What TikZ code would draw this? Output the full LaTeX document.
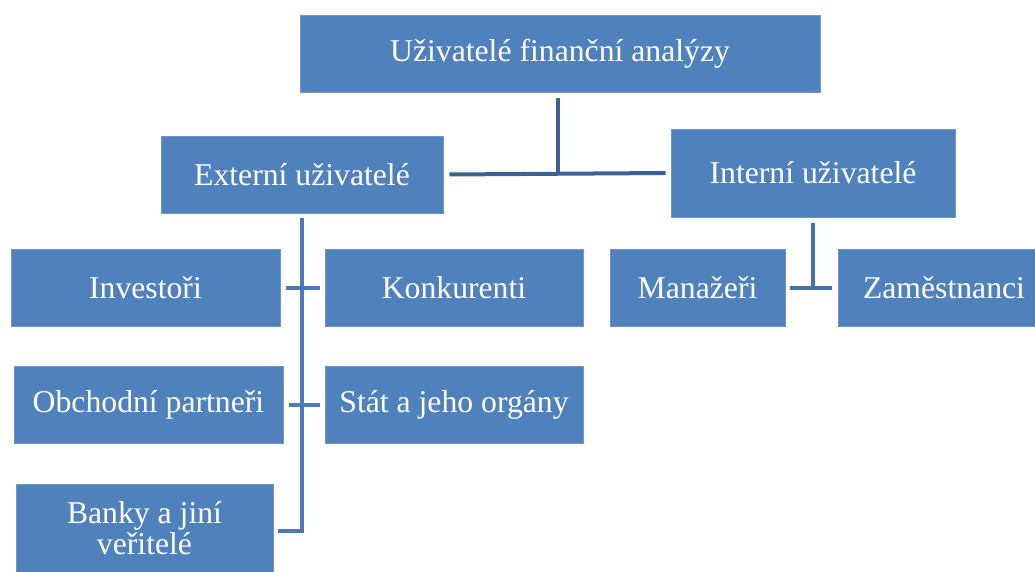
\documentclass[tikz,border=0pt]{standalone}
\usepackage{fontspec}
\setmainfont{Liberation Serif}
\usetikzlibrary{calc}
\definecolor{boxblue}{HTML}{4F81BD}
\definecolor{boxedge}{HTML}{6D95C8}
\definecolor{lineA}{HTML}{3C6294}
\definecolor{lineB}{HTML}{4A7BB8}
\definecolor{lineC}{HTML}{4570A8}
\tikzset{
  ubox/.style={fill=boxblue, draw=boxedge, line width=0.6pt, text=white, inner sep=0pt,
    align=center, font=\fontsize{31.7}{31}\selectfont},
  conn/.style={line width=4pt}
}
\begin{document}
\begin{tikzpicture}[x=1pt,y=-1pt]
\useasboundingbox (0,0) rectangle (1035,572);
\node[ubox, minimum width=520pt, minimum height=77pt] (top) at (560,53.5) {Uživatelé finanční analýzy};
\node[ubox, minimum width=282pt, minimum height=77pt] (ext) at (302,174.5) {Externí uživatelé};
\node[ubox, minimum width=284pt, minimum height=88pt] (int) at (813,173) {Interní uživatelé};
\node[ubox, minimum width=269pt, minimum height=77pt] (inv) at (145.5,287.5) {Investoři};
\node[ubox, minimum width=258pt, minimum height=77pt] (kon) at (454,287.5) {Konkurenti};
\node[ubox, minimum width=269pt, minimum height=77pt] (obch) at (148.5,404.5) {Obchodní partneři};
\node[ubox, minimum width=258pt, minimum height=77pt] (stat) at (454,404.5) {Stát a jeho orgány};
\node[ubox, minimum width=257pt, minimum height=89pt] (bank) at (144.5,528.5) {Banky a jiní\\veřitelé};
\node[ubox, minimum width=175pt, minimum height=77pt] (man) at (697.5,287.5) {Manažeři};
\node[ubox, minimum width=212pt, minimum height=77pt] (zam) at (944,287.5) {Zaměstnanci};
% top connector
\draw[conn, lineA] ([xshift=6pt]ext.east) -- ([xshift=-5pt]int.west);
\draw[conn, lineA] ([xshift=-2pt,yshift=-6pt]top.south) -- ([xshift=-2pt]top.south |- ext.east);
% external
\draw[conn, lineB] ([yshift=-5pt]ext.south) -- ($(ext.south |- bank.east)+(0,2.5)$) -- ($([xshift=5pt]bank.east)+(0,2.5)$);
\draw[conn, lineB] ([xshift=6pt]inv.east) -- ([xshift=-5pt]kon.west);
\draw[conn, lineB] ([xshift=6pt]obch.east) -- ([xshift=-5pt]stat.west);
% internal
\draw[conn, lineC] ([yshift=-6pt]int.south) -- (int.south |- man.east);
\draw[conn, lineC] ([xshift=5pt]man.east) -- ([xshift=-6pt]zam.west);
\end{tikzpicture}
\end{document}
